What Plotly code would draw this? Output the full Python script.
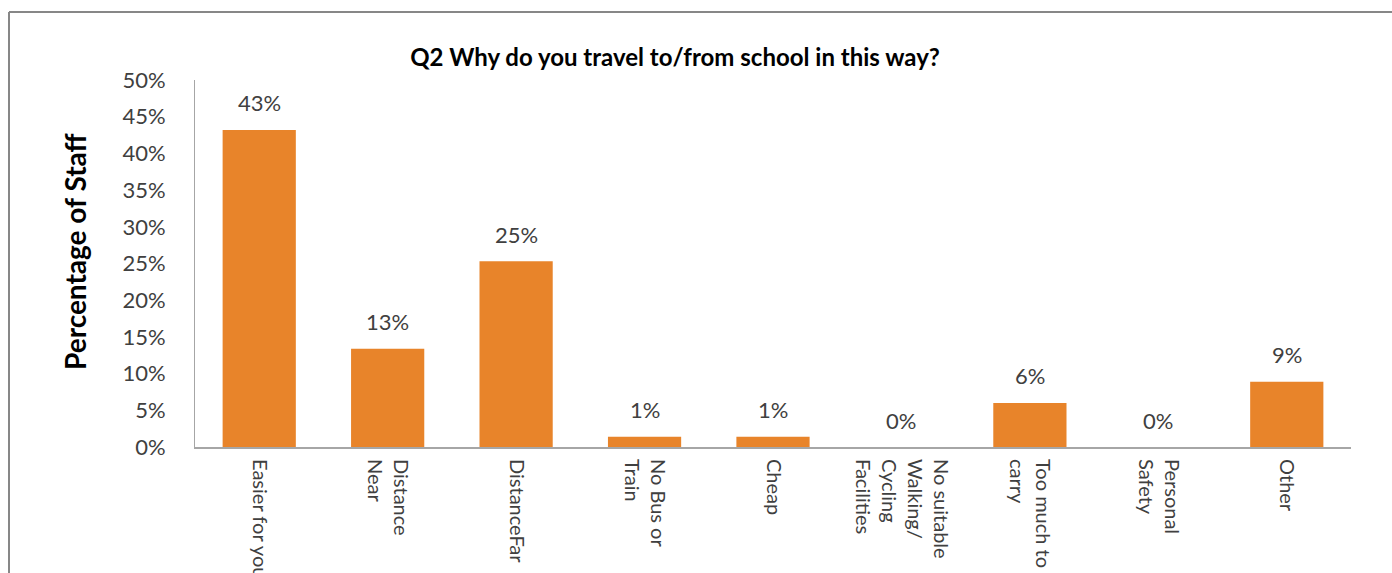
import plotly.graph_objects as go

# Survey responses: share of staff giving each reason
categories = [
    "Easier for you",
    "Distance<br>Near",
    "DistanceFar",
    "No Bus or<br>Train",
    "Cheap",
    "No suitable<br>Walking/<br>Cycling<br>Facilities",
    "Too much to<br>carry",
    "Personal<br>Safety",
    "Other",
]
shares = [0.432, 0.134, 0.253, 0.014, 0.014, 0.0, 0.06, 0.0, 0.089]
y_ticks = [0, 0.05, 0.10, 0.15, 0.20, 0.25, 0.30, 0.35, 0.40, 0.45, 0.50]

W, H = 1392, 573
PLOT_L, PLOT_R, PLOT_T, PLOT_B = 195, 1351, 80, 447

FONT = "Lato, 'Open Sans', sans-serif"
TEXT = "#404040"
AXIS = "#A6A6A6"

fig = go.Figure(
    go.Bar(
        x=categories,
        y=shares,
        width=0.57,
        marker=dict(color="#E8842A", line=dict(width=0)),
        hoverinfo="skip",
    )
)

# value labels above each bar
for cat, v in zip(categories, shares):
    fig.add_annotation(
        x=cat, y=v, xref="x", yref="y",
        text=f"{v:.0%}", showarrow=False,
        yanchor="middle", yshift=27,
        font=dict(family=FONT, size=22, color=TEXT),
    )

# y-axis title
fig.add_annotation(
    x=(75 - PLOT_L) / (PLOT_R - PLOT_L),
    y=(PLOT_B - 252) / (PLOT_B - PLOT_T),
    xref="paper", yref="paper",
    yanchor="middle", xanchor="center",
    text="<b>Percentage of Staff</b>", textangle=-90, showarrow=False,
    font=dict(family=FONT, size=28, color="#000000"),
)

# outer chart frame (top and left edges)
fx0 = (9 - PLOT_L) / (PLOT_R - PLOT_L)
fy0 = 1 + (PLOT_T - 12) / (PLOT_B - PLOT_T)
fig.add_shape(type="line", xref="paper", yref="paper",
              x0=fx0, x1=2, y0=fy0, y1=fy0,
              line=dict(color="#878787", width=2))
fig.add_shape(type="line", xref="paper", yref="paper",
              x0=fx0, x1=fx0, y0=fy0, y1=-2,
              line=dict(color="#878787", width=2))

fig.update_layout(
    width=W, height=H,
    margin=dict(l=PLOT_L, r=W - PLOT_R, t=PLOT_T, b=H - PLOT_B, autoexpand=False),
    paper_bgcolor="white", plot_bgcolor="white",
    showlegend=False,
    bargap=0.43,
    title=dict(
        text="<b>Q2 Why do you travel to/from school in this way?</b>",
        x=675 / W, xref="container", xanchor="center",
        y=1 - 58 / H, yref="container", yanchor="middle",
        font=dict(family=FONT, size=24, color="#000000"),
    ),
    font=dict(family=FONT, color=TEXT),
)
fig.update_yaxes(
    range=[0, 0.5], tickvals=y_ticks, tickformat=".0%",
    showgrid=False, zeroline=False,
    showline=True, linecolor=AXIS, linewidth=1,
    ticks="", ticklabelstandoff=24,
    tickfont=dict(family=FONT, size=22, color=TEXT),
    automargin=False,
)
fig.update_xaxes(
    tickangle=90, showgrid=False,
    showline=True, linecolor=AXIS, linewidth=2,
    ticks="", ticklabelstandoff=6,
    tickfont=dict(family=FONT, size=20, color=TEXT),
    automargin=False,
)

fig.write_html("out.html")
